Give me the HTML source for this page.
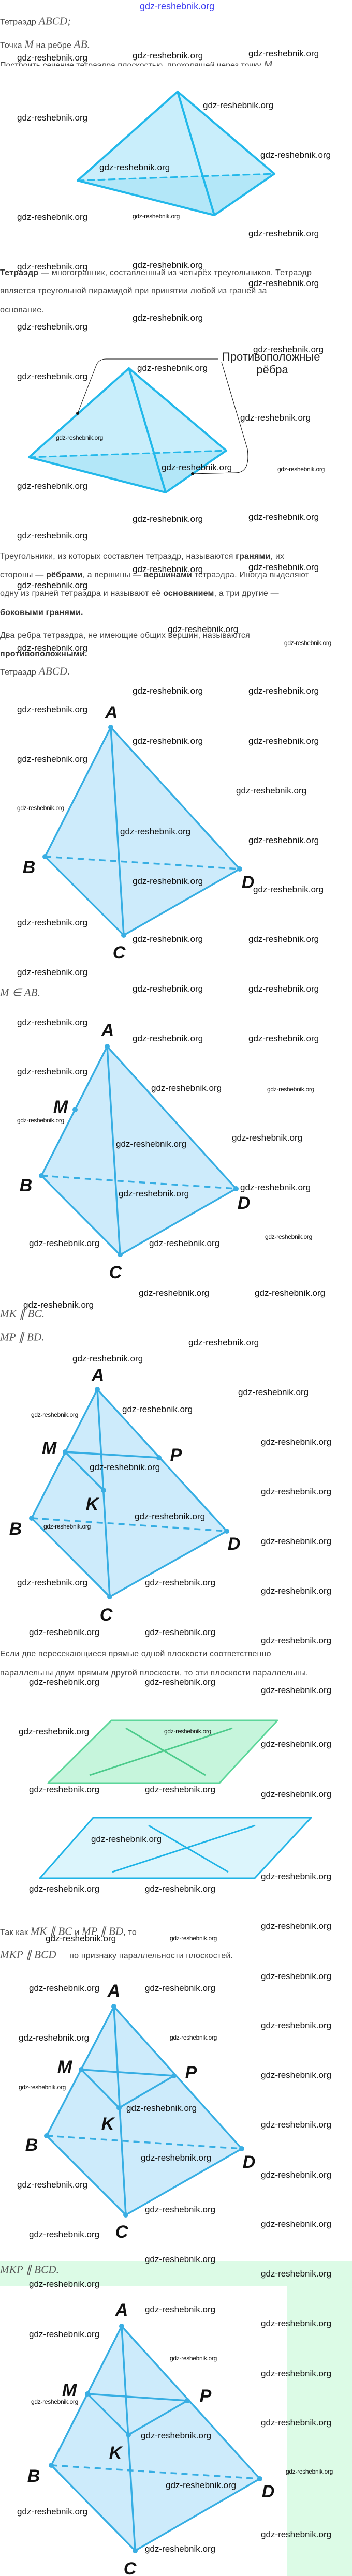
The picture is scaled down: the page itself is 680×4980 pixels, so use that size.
<!DOCTYPE html>
<html><head><meta charset="utf-8"><style>
*{margin:0;padding:0}
body{width:680px;height:4980px;position:relative;background:#fff;overflow:hidden;font-family:"Liberation Sans",sans-serif}
.t{position:absolute;left:0;font-size:16px;color:#444;white-space:nowrap;line-height:20px;transform:translateY(-50%);letter-spacing:0.2px}
.t b{color:#333}
.m{font-family:"Liberation Serif",serif;font-style:italic;font-size:21px;color:#555}
.w{position:absolute;font-size:17px;color:#111;white-space:nowrap;transform:translateY(-50%);line-height:20px}
.s{font-size:12px;letter-spacing:-0.3px}
svg{position:absolute;left:0;top:0}
.lb{font-family:"Liberation Sans Narrow","Liberation Sans",sans-serif;font-weight:bold;font-style:italic;font-size:34px;fill:#111;text-anchor:middle}
</style></head><body>
<div style="position:absolute;left:0;top:4371px;width:680px;height:48px;background:#dcfbe6"></div>
<div style="position:absolute;left:555px;top:4419px;width:125px;height:561px;background:#dcfbe6"></div>

<svg width="680" height="4980" viewBox="0 0 680 4980">
<!-- pyramid 1 -->
<g stroke="#22b8ea" stroke-width="4" stroke-linejoin="round" stroke-linecap="round">
<polygon points="343,177 150,349 414,416" fill="#c9eefb" stroke="none"/>
<polygon points="343,177 414,416 530,336" fill="#c9eefb" stroke="none"/>
<polygon points="150,349 414,416 530,336" fill="#b3e7f8" stroke="none"/>
<line x1="150" y1="349" x2="530" y2="336" stroke-dasharray="12,8" stroke-width="3"/>
<polyline points="150,349 343,177 530,336 414,416 150,349" fill="none"/>
<line x1="343" y1="177" x2="414" y2="416"/>
</g>
<!-- pyramid 2 -->
<g stroke="#22b8ea" stroke-width="4" stroke-linejoin="round" stroke-linecap="round">
<polygon points="249,712 56,884 320,952" fill="#c9eefb" stroke="none"/>
<polygon points="249,712 320,952 437,871" fill="#c9eefb" stroke="none"/>
<polygon points="56,884 320,952 437,871" fill="#b3e7f8" stroke="none"/>
<line x1="56" y1="884" x2="437" y2="871" stroke-dasharray="12,8" stroke-width="3"/>
<polyline points="56,884 249,712 437,871 320,952 56,884" fill="none"/>
<line x1="249" y1="712" x2="320" y2="952"/>
</g>
<path d="M150,799 L186,706 Q191,694 205,694 L421,694" fill="none" stroke="#111" stroke-width="1"/>
<path d="M428,700 L478,868 Q484,914 455,914 L372,916" fill="none" stroke="#111" stroke-width="1"/>
<circle cx="150" cy="799" r="3" fill="#111"/><circle cx="372" cy="916" r="3" fill="#111"/>
<text x="429" y="697" font-size="22" fill="#222" font-family="Liberation Sans">Противоположные</text>
<text x="526" y="722" font-size="22" fill="#222" font-family="Liberation Sans" text-anchor="middle">рёбра</text>

<!-- diagram 3 -->
<g stroke="#36aee3" stroke-width="3.5" stroke-linejoin="round" fill="#3aaee3">
<polygon points="214,1406 87,1656 239,1808 463,1680" fill="#cdebfb" stroke="none"/>
<line x1="87" y1="1656" x2="463" y2="1680" stroke-dasharray="12,9"/>
<polyline points="87,1656 214,1406 463,1680 239,1808 87,1656" fill="none"/>
<line x1="214" y1="1406" x2="239" y2="1808"/>
<circle cx="214" cy="1406" r="5" stroke="none"/><circle cx="87" cy="1656" r="5" stroke="none"/><circle cx="463" cy="1680" r="5" stroke="none"/><circle cx="239" cy="1808" r="5" stroke="none"/>
</g>
<text class="lb" x="215" y="1389">A</text><text class="lb" x="56" y="1688">B</text><text class="lb" x="230" y="1853">C</text><text class="lb" x="479" y="1717">D</text>

<!-- diagram 4 -->
<g stroke="#36aee3" stroke-width="3.5" stroke-linejoin="round" fill="#3aaee3">
<polygon points="207,2023 80,2273 232,2426 456,2298" fill="#cdebfb" stroke="none"/>
<line x1="80" y1="2273" x2="456" y2="2298" stroke-dasharray="12,9"/>
<polyline points="80,2273 207,2023 456,2298 232,2426 80,2273" fill="none"/>
<line x1="207" y1="2023" x2="232" y2="2426"/>
<circle cx="207" cy="2023" r="5" stroke="none"/><circle cx="145" cy="2145" r="5" stroke="none"/><circle cx="80" cy="2273" r="5" stroke="none"/><circle cx="456" cy="2298" r="5" stroke="none"/><circle cx="232" cy="2426" r="5" stroke="none"/>
</g>
<text class="lb" x="208" y="2003">A</text><text class="lb" x="117" y="2151">M</text><text class="lb" x="50" y="2303">B</text><text class="lb" x="223" y="2471">C</text><text class="lb" x="471" y="2337">D</text>

<!-- diagram 5 -->
<g stroke="#36aee3" stroke-width="3.5" stroke-linejoin="round" fill="#3aaee3">
<polygon points="188,2686 61,2935 212,3087 438,2960" fill="#cdebfb" stroke="none"/>
<line x1="61" y1="2935" x2="438" y2="2960" stroke-dasharray="12,9"/>
<polyline points="61,2935 188,2686 438,2960 212,3087 61,2935" fill="none"/>
<line x1="188" y1="2686" x2="212" y2="3087"/>
<line x1="126" y1="2807" x2="307" y2="2818"/><line x1="126" y1="2807" x2="200" y2="2881"/>
<circle cx="188" cy="2686" r="5" stroke="none"/><circle cx="126" cy="2807" r="5" stroke="none"/><circle cx="307" cy="2818" r="5" stroke="none"/><circle cx="200" cy="2881" r="5" stroke="none"/><circle cx="61" cy="2935" r="5" stroke="none"/><circle cx="438" cy="2960" r="5" stroke="none"/><circle cx="212" cy="3087" r="5" stroke="none"/>
</g>
<text class="lb" x="189" y="2670">A</text><text class="lb" x="95" y="2811">M</text><text class="lb" x="340" y="2824">P</text><text class="lb" x="178" y="2919">K</text><text class="lb" x="30" y="2967">B</text><text class="lb" x="452" y="2996">D</text><text class="lb" x="205" y="3133">C</text>

<!-- planes -->
<polygon points="215,3326 536,3326 424,3447 93,3447" fill="#c6f5dc" stroke="#5cd69a" stroke-width="3" stroke-linejoin="round"/>
<line x1="243" y1="3341" x2="397" y2="3432" stroke="#4ccb8c" stroke-width="3"/>
<line x1="173" y1="3432" x2="449" y2="3341" stroke="#4ccb8c" stroke-width="3"/>
<polygon points="180,3514 601,3514 492,3631 77,3631" fill="#dcf5fc" stroke="#1eb3e6" stroke-width="3" stroke-linejoin="round"/>
<line x1="287" y1="3529" x2="441" y2="3619" stroke="#1eb3e6" stroke-width="3"/>
<line x1="217" y1="3619" x2="493" y2="3529" stroke="#1eb3e6" stroke-width="3"/>

<!-- diagram 6 -->
<g stroke="#36aee3" stroke-width="3.5" stroke-linejoin="round" fill="#3aaee3">
<polygon points="220,3879 90,4129 243,4282 467,4154" fill="#cdebfb" stroke="none"/>
<line x1="90" y1="4129" x2="467" y2="4154" stroke-dasharray="12,9"/>
<polyline points="90,4129 220,3879 467,4154 243,4282 90,4129" fill="none"/>
<line x1="220" y1="3879" x2="243" y2="4282"/>
<polygon points="157,4001 336,4013 230,4075" fill="none"/>
<circle cx="220" cy="3879" r="5" stroke="none"/><circle cx="157" cy="4001" r="5" stroke="none"/><circle cx="336" cy="4013" r="5" stroke="none"/><circle cx="230" cy="4075" r="5" stroke="none"/><circle cx="90" cy="4129" r="5" stroke="none"/><circle cx="467" cy="4154" r="5" stroke="none"/><circle cx="243" cy="4282" r="5" stroke="none"/>
</g>
<text class="lb" x="220" y="3860">A</text><text class="lb" x="125" y="4007">M</text><text class="lb" x="369" y="4018">P</text><text class="lb" x="208" y="4117">K</text><text class="lb" x="61" y="4158">B</text><text class="lb" x="481" y="4191">D</text><text class="lb" x="235" y="4326">C</text>

<!-- diagram 7 -->
<g stroke="#36aee3" stroke-width="3.5" stroke-linejoin="round" fill="#3aaee3">
<polygon points="235,4497 99,4766 261,4931 502,4792" fill="#cdebfb" stroke="none"/>
<line x1="99" y1="4766" x2="502" y2="4792" stroke-dasharray="12,9"/>
<polyline points="99,4766 235,4497 502,4792 261,4931 99,4766" fill="none"/>
<line x1="235" y1="4497" x2="261" y2="4931"/>
<polygon points="169,4628 362,4641 248,4707" fill="none"/>
<circle cx="235" cy="4497" r="5" stroke="none"/><circle cx="169" cy="4628" r="5" stroke="none"/><circle cx="362" cy="4641" r="5" stroke="none"/><circle cx="248" cy="4707" r="5" stroke="none"/><circle cx="99" cy="4766" r="5" stroke="none"/><circle cx="502" cy="4792" r="5" stroke="none"/><circle cx="261" cy="4931" r="5" stroke="none"/>
</g>
<text class="lb" x="235" y="4477">A</text><text class="lb" x="134" y="4632">M</text><text class="lb" x="397" y="4643">P</text><text class="lb" x="223" y="4753">K</text><text class="lb" x="65" y="4798">B</text><text class="lb" x="518" y="4828">D</text><text class="lb" x="251" y="4977">C</text>
</svg>

<div class="w" style="left:270px;top:12px;color:#3b3bf0;font-size:18px">gdz-reshebnik.org</div>

<div class="t" style="top:42px">Тетраэдр <span class="m">ABCD;</span></div>
<div class="t" style="top:87px">Точка <span class="m">M</span> на ребре <span class="m">AB.</span></div>
<div style="position:absolute;left:0;top:112px;height:16px;overflow:hidden;width:680px"><div style="font-size:16px;color:#444;line-height:22px;white-space:nowrap;margin-top:1px">Построить сечение тетраэдра плоскостью, проходящей через точку <span class="m">M</span></div></div>
<div class="t" style="top:528px"><b>Тетраэдр</b> — многогранник, составленный из четырёх треугольников. Тетраэдр</div>
<div class="t" style="top:563px">является треугольной пирамидой при принятии любой из граней за</div>
<div class="t" style="top:600px">основание.</div>
<div class="t" style="top:1076px">Треугольники, из которых составлен тетраэдр, называются <b>гранями</b>, их</div>
<div class="t" style="top:1112px">стороны — <b>рёбрами</b>, а вершины — <b>вершинами</b> тетраэдра. Иногда выделяют</div>
<div class="t" style="top:1148px">одну из граней тетраэдра и называют её <b>основанием</b>, а три другие —</div>
<div class="t" style="top:1185px"><b>боковыми гранями.</b></div>
<div class="t" style="top:1229px">Два ребра тетраэдра, не имеющие общих вершин, называются</div>
<div class="t" style="top:1265px"><b>противоположными.</b></div>
<div class="t" style="top:1299px">Тетраэдр <span class="m">ABCD.</span></div>
<div class="t" style="top:1920px"><span class="m">M ∈ AB.</span></div>
<div class="t" style="top:2541px"><span class="m">MK ∥ BC.</span></div>
<div class="t" style="top:2586px"><span class="m">MP ∥ BD.</span></div>
<div class="t" style="top:3198px">Если две пересекающиеся прямые одной плоскости соответственно</div>
<div class="t" style="top:3235px">параллельны двум прямым другой плоскости, то эти плоскости параллельны.</div>
<div class="t" style="top:3735px">Так как <span class="m">MK ∥ BC</span> и <span class="m">MP ∥ BD</span>, то</div>
<div class="t" style="top:3780px"><span class="m">MKP ∥ BCD</span> — по признаку параллельности плоскостей.</div>
<div class="t" style="top:4389px"><span class="m">MKP ∥ BCD.</span></div>

<div class="w" style="left:33px;top:112px">gdz-reshebnik.org</div>
<div class="w" style="left:256px;top:108px">gdz-reshebnik.org</div>
<div class="w" style="left:480px;top:104px">gdz-reshebnik.org</div>
<div class="w" style="left:392px;top:204px">gdz-reshebnik.org</div>
<div class="w" style="left:33px;top:228px">gdz-reshebnik.org</div>
<div class="w" style="left:503px;top:300px">gdz-reshebnik.org</div>
<div class="w" style="left:192px;top:324px">gdz-reshebnik.org</div>
<div class="w" style="left:33px;top:420px">gdz-reshebnik.org</div>
<div class="w s" style="left:256px;top:418px">gdz-reshebnik.org</div>
<div class="w" style="left:480px;top:452px">gdz-reshebnik.org</div>
<div class="w" style="left:33px;top:516px">gdz-reshebnik.org</div>
<div class="w" style="left:256px;top:513px">gdz-reshebnik.org</div>
<div class="w" style="left:480px;top:548px">gdz-reshebnik.org</div>
<div class="w" style="left:256px;top:615px">gdz-reshebnik.org</div>
<div class="w" style="left:33px;top:632px">gdz-reshebnik.org</div>
<div class="w" style="left:489px;top:676px">gdz-reshebnik.org</div>
<div class="w" style="left:265px;top:712px">gdz-reshebnik.org</div>
<div class="w" style="left:33px;top:728px">gdz-reshebnik.org</div>
<div class="w" style="left:464px;top:808px">gdz-reshebnik.org</div>
<div class="w s" style="left:108px;top:846px">gdz-reshebnik.org</div>
<div class="w" style="left:312px;top:904px">gdz-reshebnik.org</div>
<div class="w s" style="left:536px;top:907px">gdz-reshebnik.org</div>
<div class="w" style="left:33px;top:940px">gdz-reshebnik.org</div>
<div class="w" style="left:256px;top:1004px">gdz-reshebnik.org</div>
<div class="w" style="left:480px;top:1000px">gdz-reshebnik.org</div>
<div class="w" style="left:33px;top:1036px">gdz-reshebnik.org</div>
<div class="w" style="left:256px;top:1101px">gdz-reshebnik.org</div>
<div class="w" style="left:480px;top:1097px">gdz-reshebnik.org</div>
<div class="w" style="left:33px;top:1132px">gdz-reshebnik.org</div>
<div class="w" style="left:324px;top:1217px">gdz-reshebnik.org</div>
<div class="w s" style="left:549px;top:1243px">gdz-reshebnik.org</div>
<div class="w" style="left:33px;top:1253px">gdz-reshebnik.org</div>
<div class="w" style="left:256px;top:1336px">gdz-reshebnik.org</div>
<div class="w" style="left:480px;top:1336px">gdz-reshebnik.org</div>
<div class="w" style="left:33px;top:1372px">gdz-reshebnik.org</div>
<div class="w" style="left:256px;top:1433px">gdz-reshebnik.org</div>
<div class="w" style="left:480px;top:1433px">gdz-reshebnik.org</div>
<div class="w" style="left:33px;top:1468px">gdz-reshebnik.org</div>
<div class="w" style="left:456px;top:1529px">gdz-reshebnik.org</div>
<div class="w s" style="left:33px;top:1562px">gdz-reshebnik.org</div>
<div class="w" style="left:232px;top:1608px">gdz-reshebnik.org</div>
<div class="w" style="left:480px;top:1625px">gdz-reshebnik.org</div>
<div class="w" style="left:256px;top:1704px">gdz-reshebnik.org</div>
<div class="w" style="left:489px;top:1720px">gdz-reshebnik.org</div>
<div class="w" style="left:33px;top:1784px">gdz-reshebnik.org</div>
<div class="w" style="left:256px;top:1816px">gdz-reshebnik.org</div>
<div class="w" style="left:480px;top:1816px">gdz-reshebnik.org</div>
<div class="w" style="left:33px;top:1880px">gdz-reshebnik.org</div>
<div class="w" style="left:256px;top:1912px">gdz-reshebnik.org</div>
<div class="w" style="left:480px;top:1912px">gdz-reshebnik.org</div>
<div class="w" style="left:33px;top:1977px">gdz-reshebnik.org</div>
<div class="w" style="left:256px;top:2008px">gdz-reshebnik.org</div>
<div class="w" style="left:480px;top:2008px">gdz-reshebnik.org</div>
<div class="w" style="left:33px;top:2072px">gdz-reshebnik.org</div>
<div class="w" style="left:292px;top:2104px">gdz-reshebnik.org</div>
<div class="w s" style="left:516px;top:2106px">gdz-reshebnik.org</div>
<div class="w s" style="left:33px;top:2166px">gdz-reshebnik.org</div>
<div class="w" style="left:448px;top:2200px">gdz-reshebnik.org</div>
<div class="w" style="left:224px;top:2212px">gdz-reshebnik.org</div>
<div class="w" style="left:464px;top:2296px">gdz-reshebnik.org</div>
<div class="w" style="left:229px;top:2308px">gdz-reshebnik.org</div>
<div class="w s" style="left:512px;top:2391px">gdz-reshebnik.org</div>
<div class="w" style="left:56px;top:2404px">gdz-reshebnik.org</div>
<div class="w" style="left:288px;top:2404px">gdz-reshebnik.org</div>
<div class="w" style="left:268px;top:2500px">gdz-reshebnik.org</div>
<div class="w" style="left:492px;top:2500px">gdz-reshebnik.org</div>
<div class="w" style="left:45px;top:2523px">gdz-reshebnik.org</div>
<div class="w" style="left:364px;top:2596px">gdz-reshebnik.org</div>
<div class="w" style="left:140px;top:2627px">gdz-reshebnik.org</div>
<div class="w" style="left:460px;top:2692px">gdz-reshebnik.org</div>
<div class="w" style="left:236px;top:2725px">gdz-reshebnik.org</div>
<div class="w s" style="left:60px;top:2735px">gdz-reshebnik.org</div>
<div class="w" style="left:504px;top:2788px">gdz-reshebnik.org</div>
<div class="w" style="left:173px;top:2837px">gdz-reshebnik.org</div>
<div class="w" style="left:504px;top:2884px">gdz-reshebnik.org</div>
<div class="w" style="left:260px;top:2932px">gdz-reshebnik.org</div>
<div class="w s" style="left:84px;top:2951px">gdz-reshebnik.org</div>
<div class="w" style="left:504px;top:2980px">gdz-reshebnik.org</div>
<div class="w" style="left:33px;top:3060px">gdz-reshebnik.org</div>
<div class="w" style="left:280px;top:3060px">gdz-reshebnik.org</div>
<div class="w" style="left:504px;top:3076px">gdz-reshebnik.org</div>
<div class="w" style="left:56px;top:3156px">gdz-reshebnik.org</div>
<div class="w" style="left:280px;top:3156px">gdz-reshebnik.org</div>
<div class="w" style="left:504px;top:3172px">gdz-reshebnik.org</div>
<div class="w" style="left:56px;top:3252px">gdz-reshebnik.org</div>
<div class="w" style="left:280px;top:3252px">gdz-reshebnik.org</div>
<div class="w" style="left:504px;top:3268px">gdz-reshebnik.org</div>
<div class="w" style="left:36px;top:3348px">gdz-reshebnik.org</div>
<div class="w s" style="left:317px;top:3347px">gdz-reshebnik.org</div>
<div class="w" style="left:504px;top:3372px">gdz-reshebnik.org</div>
<div class="w" style="left:56px;top:3460px">gdz-reshebnik.org</div>
<div class="w" style="left:280px;top:3460px">gdz-reshebnik.org</div>
<div class="w" style="left:504px;top:3469px">gdz-reshebnik.org</div>
<div class="w" style="left:176px;top:3556px">gdz-reshebnik.org</div>
<div class="w" style="left:504px;top:3628px">gdz-reshebnik.org</div>
<div class="w" style="left:56px;top:3652px">gdz-reshebnik.org</div>
<div class="w" style="left:280px;top:3652px">gdz-reshebnik.org</div>
<div class="w" style="left:504px;top:3724px">gdz-reshebnik.org</div>
<div class="w" style="left:88px;top:3748px">gdz-reshebnik.org</div>
<div class="w s" style="left:328px;top:3747px">gdz-reshebnik.org</div>
<div class="w" style="left:504px;top:3821px">gdz-reshebnik.org</div>
<div class="w" style="left:56px;top:3844px">gdz-reshebnik.org</div>
<div class="w" style="left:280px;top:3844px">gdz-reshebnik.org</div>
<div class="w" style="left:504px;top:3916px">gdz-reshebnik.org</div>
<div class="w" style="left:36px;top:3940px">gdz-reshebnik.org</div>
<div class="w s" style="left:328px;top:3939px">gdz-reshebnik.org</div>
<div class="w" style="left:504px;top:4012px">gdz-reshebnik.org</div>
<div class="w s" style="left:36px;top:4035px">gdz-reshebnik.org</div>
<div class="w" style="left:244px;top:4076px">gdz-reshebnik.org</div>
<div class="w" style="left:504px;top:4108px">gdz-reshebnik.org</div>
<div class="w" style="left:272px;top:4172px">gdz-reshebnik.org</div>
<div class="w" style="left:504px;top:4205px">gdz-reshebnik.org</div>
<div class="w" style="left:33px;top:4224px">gdz-reshebnik.org</div>
<div class="w" style="left:280px;top:4272px">gdz-reshebnik.org</div>
<div class="w" style="left:504px;top:4300px">gdz-reshebnik.org</div>
<div class="w" style="left:56px;top:4320px">gdz-reshebnik.org</div>
<div class="w" style="left:280px;top:4368px">gdz-reshebnik.org</div>
<div class="w" style="left:504px;top:4396px">gdz-reshebnik.org</div>
<div class="w" style="left:56px;top:4416px">gdz-reshebnik.org</div>
<div class="w" style="left:280px;top:4465px">gdz-reshebnik.org</div>
<div class="w" style="left:504px;top:4492px">gdz-reshebnik.org</div>
<div class="w" style="left:56px;top:4513px">gdz-reshebnik.org</div>
<div class="w s" style="left:328px;top:4559px">gdz-reshebnik.org</div>
<div class="w" style="left:504px;top:4589px">gdz-reshebnik.org</div>
<div class="w s" style="left:60px;top:4643px">gdz-reshebnik.org</div>
<div class="w" style="left:504px;top:4684px">gdz-reshebnik.org</div>
<div class="w" style="left:272px;top:4709px">gdz-reshebnik.org</div>
<div class="w s" style="left:552px;top:4778px">gdz-reshebnik.org</div>
<div class="w" style="left:320px;top:4805px">gdz-reshebnik.org</div>
<div class="w" style="left:33px;top:4856px">gdz-reshebnik.org</div>
<div class="w" style="left:504px;top:4900px">gdz-reshebnik.org</div>
<div class="w" style="left:280px;top:4928px">gdz-reshebnik.org</div>
</body></html>
